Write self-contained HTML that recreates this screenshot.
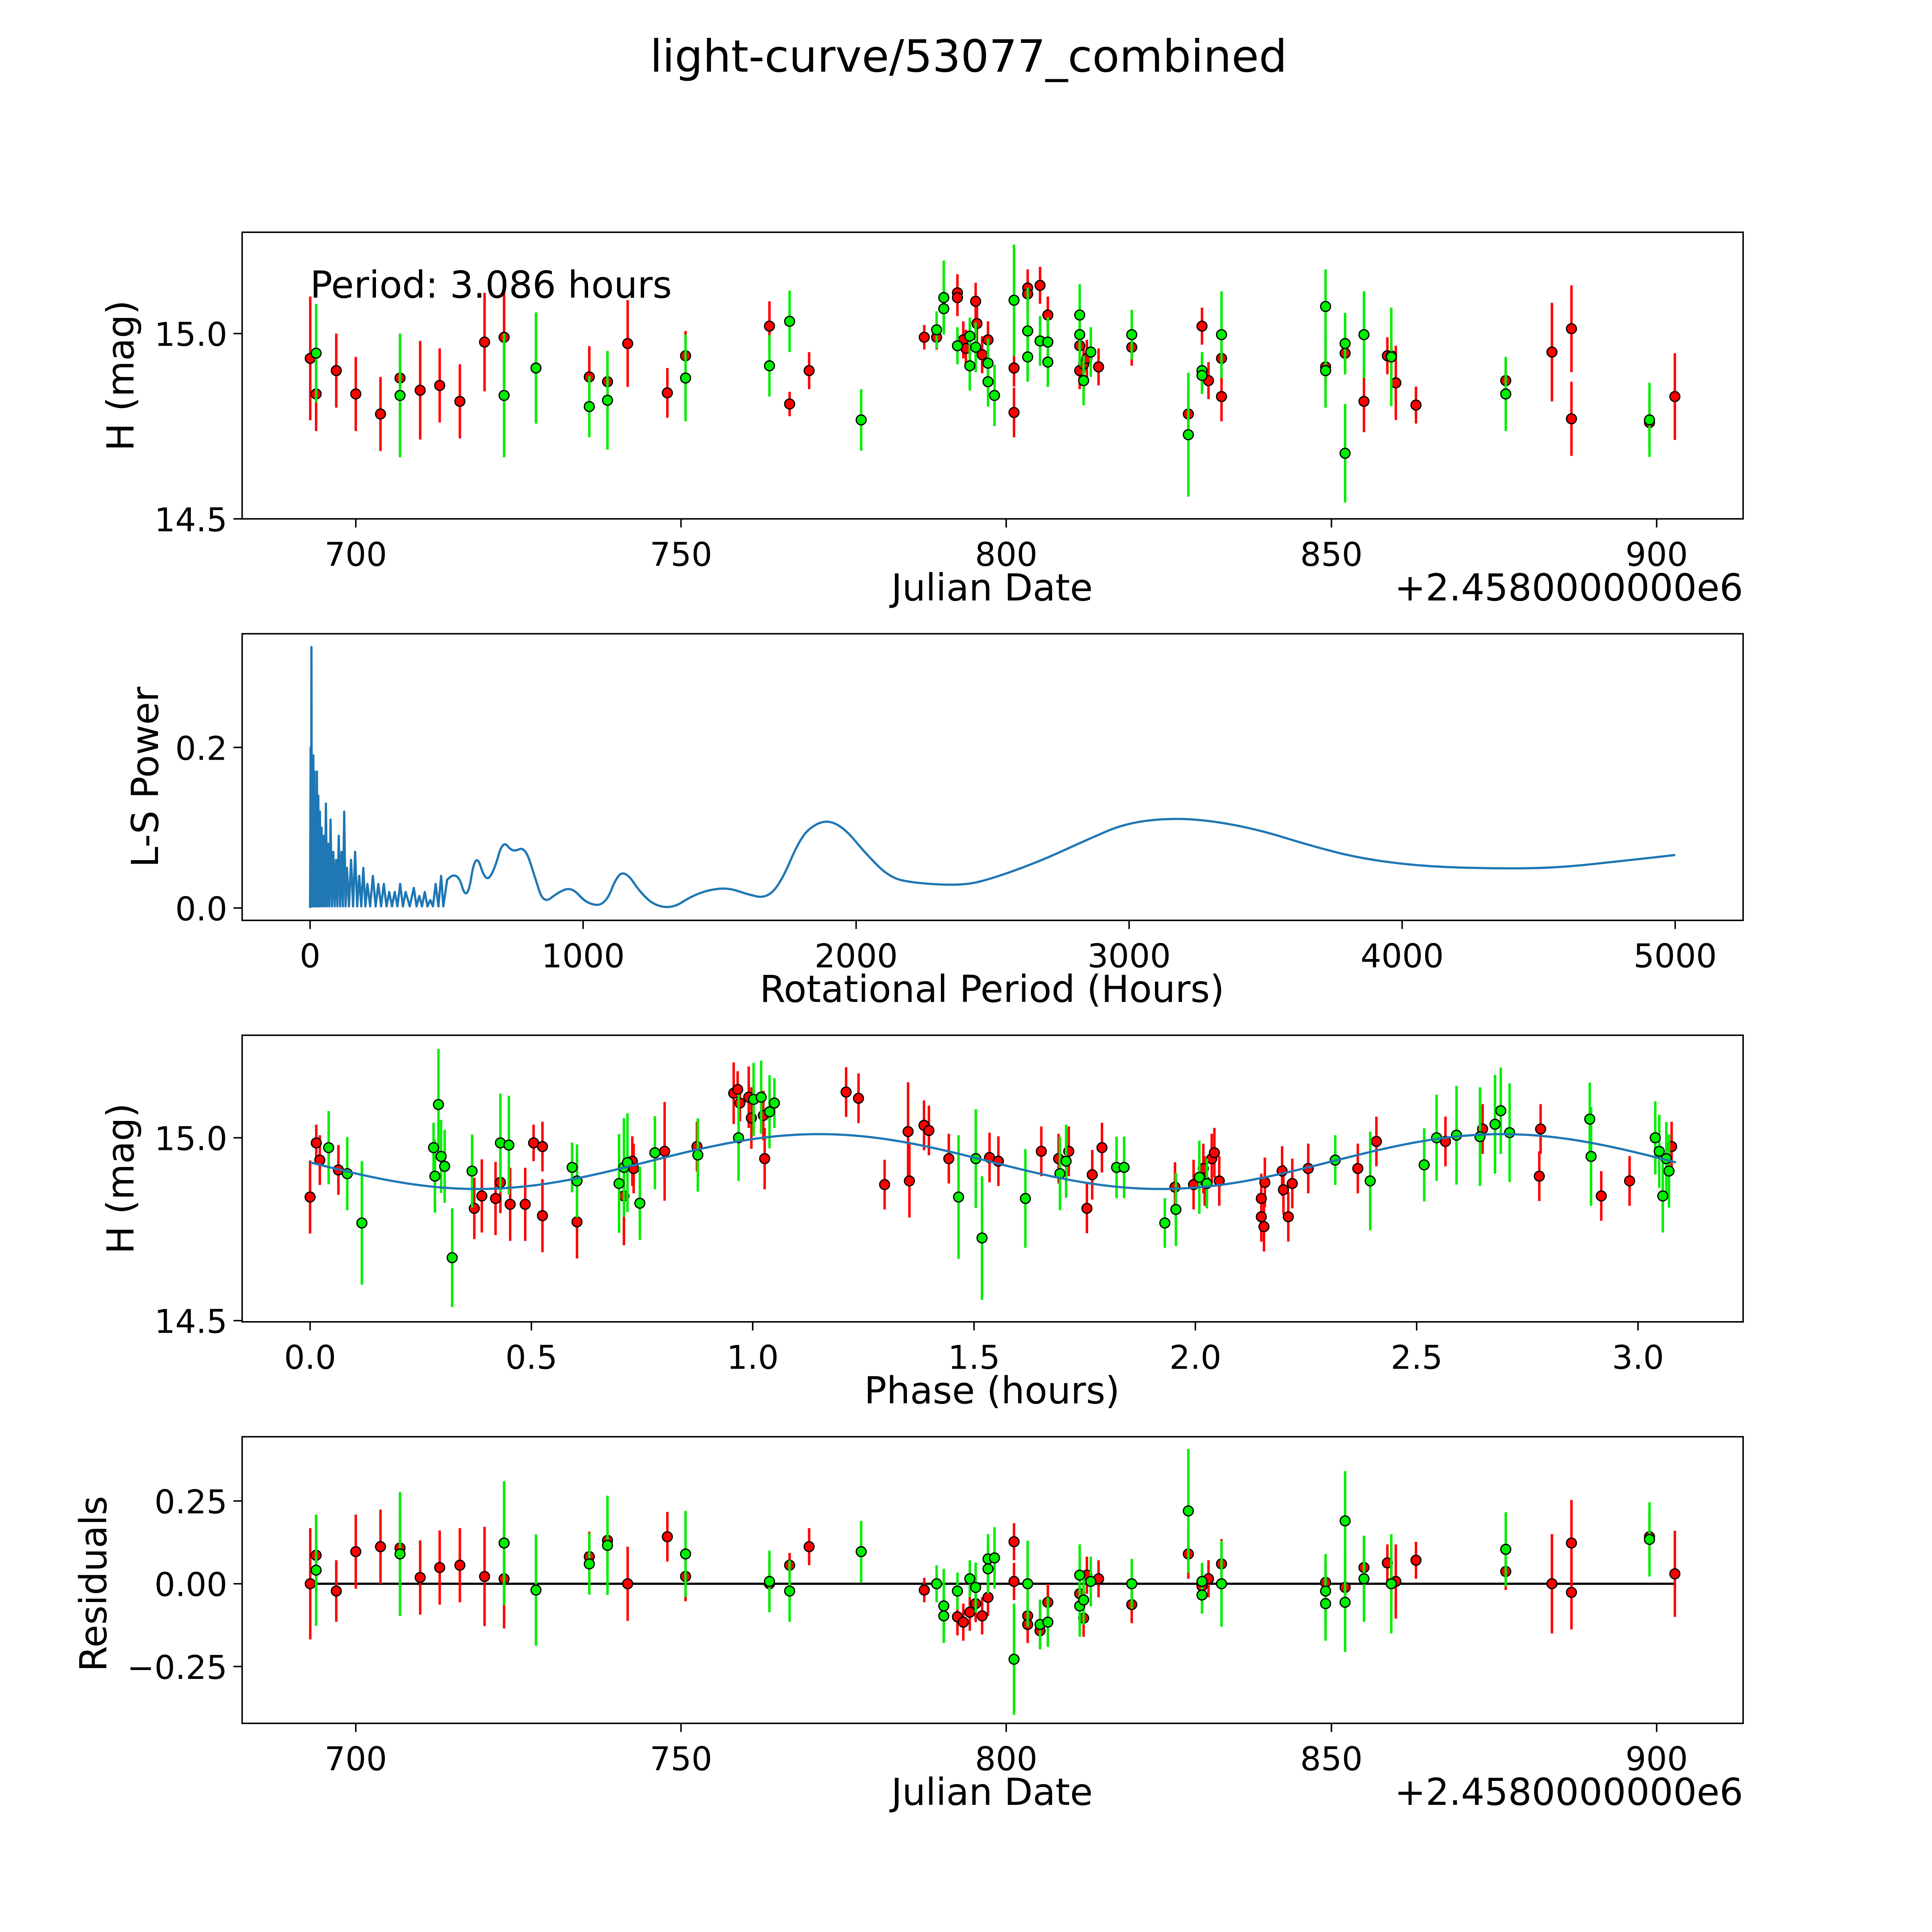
<!DOCTYPE html>
<html><head><meta charset="utf-8"><style>html,body{margin:0;padding:0;background:#fff;overflow:hidden;width:5400px;height:5400px}svg{display:block}</style></head>
<body>
<svg id="fig" xmlns="http://www.w3.org/2000/svg" width="5400" height="5400" viewBox="0 0 1689 1689" preserveAspectRatio="xMinYMin meet" font-family="'DejaVu Sans','Liberation Sans',sans-serif">
<rect width="1689" height="1689" fill="#fff"/>
<text x="784" y="58" font-size="36" text-anchor="middle">light-curve/53077_combined</text>
</svg>
<script>
// ---- panel 1 data (Julian date offset, H mag, error) ----
const redDates=[693.0,693.9,697.0,700,703.8,706.8,709.9,712.9,716.0,719.8,722.8,735.9,738.7,741.8,747.9,750.7,763.6,766.7,769.7,787.4,789.3,792.5,792.5,793.4,793.8,795.3,795.5,796.3,797.2,801.2,801.2,803.3,803.3,805.2,806.4,811.3,811.3,811.9,812.4,814.2,819.3,828.0,830.1,831.1,833.1,833.1,849.1,852.1,855.0,858.6,859.2,859.9,863.0,876.8,883.9,886.9,886.9,898.9,902.8];
const redMags=[14.933,14.837,14.9,14.837,14.783,14.88,14.847,14.86,14.817,14.977,14.99,14.883,14.87,14.973,14.84,14.94,15.02,14.81,14.9,14.99,14.99,15.11,15.097,14.983,14.96,15.087,15.027,14.943,14.983,14.907,14.787,15.123,15.107,15.13,15.05,14.967,14.9,14.917,14.933,14.91,14.963,14.783,15.02,14.873,14.83,14.933,14.91,14.947,14.817,14.94,14.94,14.867,14.807,14.873,14.95,15.013,14.77,14.76,14.83];
const redErrs=[.167,.1,.1,.1,.1,.1,.133,.1,.1,.133,.133,.083,.083,.117,.067,.067,.067,.033,.05,.033,.033,.05,.05,.05,.05,.05,.05,.05,.05,.05,.067,.05,.05,.05,.05,.05,.05,.05,.05,.05,.05,.067,.05,.05,.067,.067,.05,.05,.083,.05,.05,.1,.05,.05,.133,.117,.1,.067,.117];
const greenDates=[693.9,706.8,722.8,727.7,735.9,738.7,750.7,763.6,766.7,777.7,789.3,790.4,790.4,792.5,794.4,794.4,795.3,797.2,797.2,798.2,801.2,803.3,803.3,805.2,806.4,806.4,811.3,811.3,811.9,813.0,819.3,828.0,830.1,830.1,833.1,849.1,849.1,852.1,852.1,855.0,859.2,876.8,898.9];
const greenMags=[14.947,14.833,14.833,14.907,14.803,14.82,14.88,14.913,15.033,14.767,15.01,15.097,15.067,14.967,14.993,14.913,14.963,14.92,14.87,14.833,15.09,15.007,14.937,14.98,14.977,14.923,15.05,14.997,14.873,14.95,14.997,14.727,14.9,14.887,14.997,15.073,14.9,14.973,14.677,14.997,14.937,14.837,14.767];
const greenErrs=[.133,.167,.167,.15,.083,.133,.117,.083,.083,.083,.05,.1,.05,.05,.05,.067,.067,.067,.067,.083,.15,.117,.067,.067,.067,.067,.083,.083,.067,.067,.067,.167,.05,.05,.117,.1,.1,.083,.133,.117,.133,.1,.1];
// ---- panel 2 periodogram ----
const spikePeriods=[2,5,8,12,16,20,25,30,36,42,50,58,66,75,85,95,105,115,125,135,150,165,180,195,210,230,250,270,290,310,330,350,380,400,420,440,460,480];
const spikePowers=[.20,.325,.185,.19,.17,.13,.17,.14,.12,.10,.09,.13,.08,.11,.07,.06,.09,.07,.12,.05,.06,.07,.04,.05,.03,.04,.03,.03,.02,.02,.03,.02,.025,.015,.02,.01,.03,.04];
const lsPeriods=[502,538,575,606,643,674,706,742,787,824,855,910,959,1014,1081,1127,1163,1208,1262,1330,1398,1466,1534,1602,1670,1724,1796,1851,1905,1964,2032,2122,2213,2384,2484,2665,2846,2982,3140,3299,3480,3661,3842,4068,4339,4566,4792,5000];
const lsPowers=[.035,.049,.005,.072,.032,.046,.085,.069,.077,.038,.005,.02,.026,.005,.003,.043,.043,.02,.003,0,.015,.023,.025,.017,.012,.031,.088,.105,.109,.097,.069,.038,.031,.028,.035,.057,.085,.105,.112,.109,.097,.078,.062,.052,.049,.05,.058,.066];
const periodXTicks=[0,1000,2000,3000,4000,5000];
const powerYTicks=[0.0,0.2];
// ---- panel 3 phased ----
const phRedPhase=[0,.014,.022,.064,.371,.388,.419,.43,.452,.486,.505,.525,.525,.603,.709,.728,.731,.801,.874,.957,.966,.971,.991,.997,1.024,1.027,1.211,1.239,1.298,1.351,1.354,1.387,1.398,1.443,1.535,1.555,1.652,1.691,1.714,1.755,1.767,1.789,1.954,1.996,2.018,2.021,2.037,2.043,2.054,2.149,2.149,2.155,2.157,2.196,2.199,2.21,2.219,2.255,2.367,2.409,2.565,2.649,2.78,2.777,2.917,2.981,3.076];
const phRedMags=[14.838,14.986,14.939,14.912,14.807,14.841,14.834,14.878,14.818,14.818,14.986,14.976,14.787,14.77,14.841,14.936,14.916,14.963,14.976,15.122,15.132,15.095,15.111,15.054,15.061,14.943,15.125,15.108,14.872,15.017,14.882,15.034,15.02,14.943,14.946,14.936,14.963,14.943,14.963,14.807,14.899,14.973,14.865,14.872,14.916,14.882,14.943,14.959,14.882,14.834,14.784,14.757,14.878,14.909,14.858,14.784,14.875,14.916,14.916,14.99,14.99,15.024,15.024,14.895,14.841,14.882,14.976];
const phRedErrs=[.1,.05,.068,.068,.084,.1,.1,.084,.1,.1,.05,.068,.1,.1,.135,.068,.068,.135,.068,.084,.05,.05,.084,.084,.068,.084,.068,.068,.068,.135,.1,.068,.068,.068,.068,.068,.068,.068,.068,.068,.068,.068,.068,.068,.068,.068,.068,.068,.068,.068,.068,.068,.068,.068,.068,.068,.068,.068,.068,.068,.068,.068,.068,.068,.068,.068,.068];
const phGreenPhase=[.042,.084,.117,.279,.282,.29,.296,.304,.321,.366,.43,.449,.592,.603,.698,.709,.717,.745,.779,.876,.968,1.002,1.019,1.038,1.049,1.465,1.504,1.518,1.616,1.694,1.708,1.822,1.839,1.931,1.956,2.009,2.026,2.316,2.395,2.517,2.545,2.59,2.643,2.677,2.69,2.71,2.891,2.894,3.039,3.048,3.056,3.064,3.07];
const phGreenMags=[14.973,14.902,14.767,14.973,14.895,15.091,14.949,14.922,14.672,14.909,14.986,14.98,14.919,14.882,14.875,14.919,14.932,14.821,14.959,14.953,15.0,15.105,15.111,15.071,15.095,14.838,14.943,14.726,14.834,14.902,14.936,14.919,14.919,14.767,14.804,14.892,14.875,14.939,14.882,14.926,15.0,15.007,15.003,15.037,15.074,15.014,15.051,14.949,15.0,14.963,14.841,14.943,14.909];
const phGreenErrs=[.1,.1,.169,.068,.1,.152,.1,.1,.135,.1,.135,.135,.068,.1,.135,.135,.135,.1,.1,.1,.118,.1,.1,.1,.068,.169,.135,.169,.135,.1,.1,.084,.084,.068,.1,.1,.068,.068,.135,.1,.118,.135,.135,.135,.118,.135,.1,.135,.1,.1,.1,.1,.1];
const modelParams=[14.935,0.075,1.15,1.543]; // mean, amplitude, peak phase, half-period
// ---- panel 4 residuals ----
const resRedDates=[693.0,693.9,697.0,700,703.8,706.8,709.9,712.9,716.0,719.8,722.8,735.9,738.7,741.8,747.9,750.7,763.6,766.7,769.7,787.4,792.5,793.4,794.4,795.3,796.3,797.2,801.2,801.2,803.3,803.3,805.2,806.4,811.3,811.9,812.4,814.2,819.3,828.0,830.1,831.1,833.1,849.1,852.1,855.0,858.6,859.2,859.9,863.0,876.8,883.9,886.9,886.9,898.9,902.8];
const resRedVals=[0,.086,-.022,.097,.112,.108,.019,.049,.056,.022,.015,.082,.131,0,.142,.022,0,.056,.112,-.019,-.1,-.116,-.086,-.06,-.097,-.041,.127,.007,-.097,-.123,-.142,-.056,-.03,-.104,.026,.015,-.063,.09,-.007,.015,.06,.004,-.011,.049,.063,0,.007,.071,.037,0,.123,-.026,.142,.03];
const resRedErrs=[.168,.112,.093,.112,.112,.112,.112,.112,.112,.15,.15,.075,.075,.112,.075,.075,.075,.037,.056,.037,.056,.056,.056,.056,.056,.056,.056,.056,.056,.056,.056,.056,.056,.056,.056,.056,.056,.075,.056,.056,.075,.056,.056,.093,.056,.056,.112,.056,.056,.15,.13,.112,.075,.13];
const resGreenDates=[693.9,706.8,722.8,727.7,735.9,738.7,750.7,763.6,766.7,777.7,789.3,790.4,790.4,792.5,794.4,795.3,797.2,797.2,798.2,801.2,803.3,805.2,806.4,811.3,811.3,811.9,813.0,819.3,828.0,830.1,830.1,833.1,849.1,849.1,852.1,852.1,855.0,859.2,876.8,898.9];
const resGreenVals=[.041,.09,.123,-.019,.06,.116,.09,.007,-.022,.097,0,-.067,-.097,-.022,.015,-.011,.045,.075,.078,-.228,0,-.123,-.116,.026,-.067,-.049,.007,0,.22,-.034,.007,0,-.022,-.06,.19,-.056,.015,0,.104,.134];
const resGreenErrs=[.168,.187,.187,.168,.093,.15,.13,.093,.093,.093,.056,.112,.056,.056,.056,.075,.075,.075,.093,.168,.13,.075,.075,.093,.093,.075,.075,.075,.187,.056,.056,.13,.112,.112,.15,.15,.13,.15,.112,.112];
const dateTicks=[700,750,800,850,900];
const magTicks=[14.5,15.0];
const phaseTicks=[0,0.5,1.0,1.5,2.0,2.5,3.0];
const resTicks=[-0.25,0,0.25];

const NS='http://www.w3.org/2000/svg';
const svg=document.getElementById('fig');
function mk(tag,attrs,parent){const e=document.createElementNS(NS,tag);for(const k in attrs)e.setAttribute(k,attrs[k]);(parent||svg).appendChild(e);return e;}
function txt(s,attrs,parent){const e=mk('text',attrs,parent);e.textContent=s;return e;}

// axis functions
const xDate=d=>288+(d-700)*5.265;
const yMag1=m=>270-(m-15)*300;
const xPer=p=>251+p*0.221;
const yPow=p=>735-p*650;
const xPh=f=>251+f*358.3;
const yMag3=m=>921-(m-15)*296;
const yRes=r=>1282-r*268;

const panels=[[196,188],[196,513],[196,838],[196,1163]];
function frame(i,name){
  const g=mk('g',{});
  
  
  const [x,y]=panels[i];
  const r=mk('rect',{x:x,y:y,width:1215,height:232,fill:'none',stroke:'#000','stroke-width':1.2},g);
  
  
  return g;
}
function xticks(g,ticks,fn,ybase,fmt){
  ticks.forEach(t=>{const x=fn(t);
    mk('line',{x1:x,x2:x,y1:ybase,y2:ybase+7,stroke:'#000','stroke-width':1.2},g);
    const l=txt(fmt(t),{x:x,y:ybase+38,'font-size':26.5,'text-anchor':'middle'},g);
    
    });
}
function yticks(g,ticks,fn,fmt){
  ticks.forEach(t=>{const y=fn(t);
    mk('line',{x1:189,x2:196,y1:y,y2:y,stroke:'#000','stroke-width':1.2},g);
    const l=txt(fmt(t),{x:184,y:y+10,'font-size':26.5,'text-anchor':'end'},g);
    
    });
}
function ylabel(g,s,x,cy){const l=txt(s,{x:x,y:cy,'font-size':30,'text-anchor':'middle',transform:`rotate(-90 ${x} ${cy})`},g);
  
  }
function xlabel(g,s,y){const l=txt(s,{x:803,y:y,'font-size':30,'text-anchor':'middle'},g);
  
  }
function offset(g,y){const l=txt('+2.4580000000e6',{x:1411,y:y,'font-size':30,'text-anchor':'end'},g);
  
  }
function points(g,xs,ys,es,fx,fy,scale,color,name){
  const gg=mk('g',{},g);
  
  
  for(let i=0;i<xs.length;i++){
    const x=fx(xs[i]),y=fy(ys[i]),e=es[i]*scale;
    const ln=mk('line',{x1:x,x2:x,y1:y-e,y2:y+e,stroke:color,'stroke-width':2},gg);
    
    
  }
  for(let i=0;i<xs.length;i++){
    const c=mk('circle',{cx:fx(xs[i]),cy:fy(ys[i]),r:4,fill:color,stroke:'#000','stroke-width':1},gg);
    
    
  }
}
const fmtInt=t=>String(t), fmt1=t=>t.toFixed(1);
const fmtRes=t=>(t<0?'\u22120.25':t.toFixed(2));

// Panel 1
let g=frame(0,'light-curve-panel');
xticks(g,dateTicks,xDate,420,fmtInt);
yticks(g,magTicks,yMag1,fmt1);
ylabel(g,'H (mag)',108,304);
xlabel(g,'Julian Date',486);
offset(g,486);
points(g,redDates,redMags,redErrs,xDate,yMag1,300,'#ff0000','red-series');
points(g,greenDates,greenMags,greenErrs,xDate,yMag1,300,'#00ee00','green-series');
const pt=txt('Period: 3.086 hours',{x:251,y:241,'font-size':30},g);



// Panel 2
g=frame(1,'periodogram-panel');
xticks(g,periodXTicks,xPer,745,fmtInt);
yticks(g,powerYTicks,yPow,fmt1);
ylabel(g,'L-S Power',128,629);
xlabel(g,'Rotational Period (Hours)',811);
let d=`M${xPer(0)},${yPow(0)}`;
for(let i=0;i<spikePeriods.length;i++){
  d+=` L${xPer(spikePeriods[i])},${yPow(spikePowers[i])}`;
  const nx=i+1<spikePeriods.length?(spikePeriods[i]+spikePeriods[i+1])/2:spikePeriods[i]+8;
  d+=` L${xPer(nx)},${yPow(0.002)}`;
}
// smooth section via quadratic curves through midpoints
const sp=lsPeriods.map((p,i)=>[xPer(p),yPow(lsPowers[i])]);
d+=` L${sp[0][0]},${sp[0][1]}`;
for(let i=1;i<sp.length-1;i++){
  const mx=(sp[i][0]+sp[i+1][0])/2,my=(sp[i][1]+sp[i+1][1])/2;
  d+=` Q${sp[i][0]},${sp[i][1]} ${mx},${my}`;
}
d+=` L${sp[sp.length-1][0]},${sp[sp.length-1][1]}`;
const pl=mk('path',{d:d,fill:'none',stroke:'#1f77b4','stroke-width':1.8,'stroke-linejoin':'round'},g);



// Panel 3
g=frame(2,'phased-panel');
xticks(g,phaseTicks,xPh,1070,fmt1);
yticks(g,magTicks,yMag3,fmt1);
ylabel(g,'H (mag)',108,954);
xlabel(g,'Phase (hours)',1136);
points(g,phRedPhase,phRedMags,phRedErrs,xPh,yMag3,296,'#ff0000','red-phased-series');
points(g,phGreenPhase,phGreenMags,phGreenErrs,xPh,yMag3,296,'#00ee00','green-phased-series');
let md='';
for(let i=0;i<=300;i++){const f=3.086*i/300;
  const m=modelParams[0]+modelParams[1]*Math.cos(2*Math.PI*(f-modelParams[2])/modelParams[3]);
  md+=(i?' L':'M')+xPh(f).toFixed(2)+','+yMag3(m).toFixed(2);}
const ml=mk('path',{d:md,fill:'none',stroke:'#1f77b4','stroke-width':1.8},g);



// Panel 4
g=frame(3,'residuals-panel');
xticks(g,dateTicks,xDate,1395,fmtInt);
yticks(g,resTicks,yRes,fmtRes);
ylabel(g,'Residuals',86,1282);
xlabel(g,'Julian Date',1461);
offset(g,1461);
const zl=mk('line',{x1:xDate(693),x2:xDate(903),y1:yRes(0),y2:yRes(0),stroke:'#000','stroke-width':1.8},g);


points(g,resRedDates,resRedVals,resRedErrs,xDate,yRes,268,'#ff0000','red-residuals');
points(g,resGreenDates,resGreenVals,resGreenErrs,xDate,yRes,268,'#00ee00','green-residuals');
</script>
</body></html>
